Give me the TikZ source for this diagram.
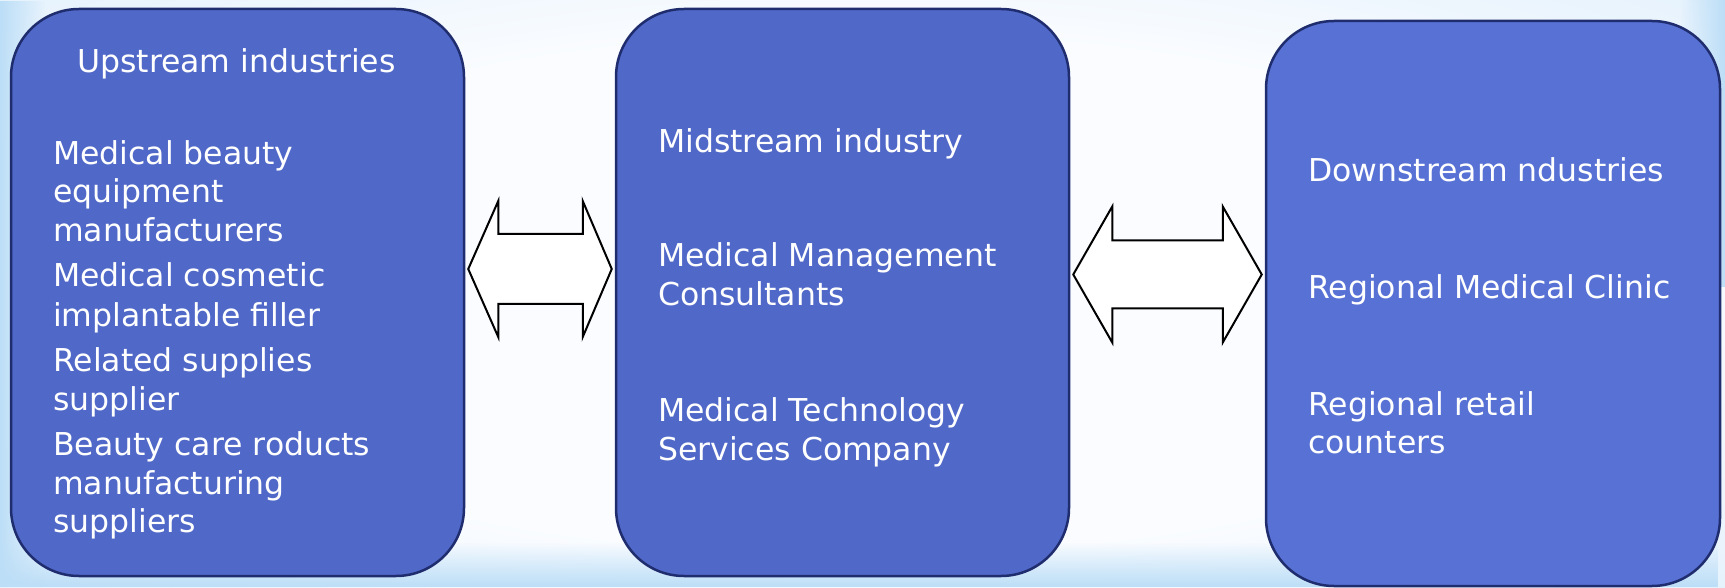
\documentclass[tikz,border=0pt]{standalone}
\usepackage{fontspec}
\setmainfont{DejaVu Sans}
\usetikzlibrary{calc,fadings}

\definecolor{bgblue}{RGB}{188,222,247}
\definecolor{bgwhite}{RGB}{250,252,255}
\definecolor{boxfill}{RGB}{80,104,200}
\definecolor{boxfillb}{RGB}{87,113,213}
\definecolor{boxline}{RGB}{31,45,110}

\pgfdeclareradialshading{skyglow}{\pgfpoint{0bp}{0bp}}{%
  color(0bp)=(bgwhite); color(22bp)=(bgwhite); color(38bp)=(bgwhite!60!bgblue); color(50bp)=(bgblue)}

\tikzset{
  stagebox/.style={draw=boxline, line width=2.5pt, fill=boxfill,
    rounded corners=68pt, inner sep=0pt},
  entry/.style={anchor=base west, inner sep=0pt, text=white,
    font=\fontsize{31.5}{38.7}\selectfont},
  dblarrow/.style={draw=black, line width=2pt, fill=white, line join=miter},
}

\begin{document}
\begin{tikzpicture}[x=1pt, y=1pt]
  % backdrop: pale sky with bluish edges
  \useasboundingbox (0,0) rectangle (1725,587);
  \shade[shading=skyglow] (0,0) rectangle (1725,587);
  \fill[bgblue, path fading=north] (0,0) rectangle (1725,45);
  \fill[bgblue, path fading=east] (0,0) rectangle (45,587);
  \fill[bgblue, path fading=west] (1680,300) rectangle (1725,587);

  % the three stages of the chain
  \node[stagebox, minimum width=453pt, minimum height=567pt] (b1) at (237.5,294.5) {};
  \node[stagebox, minimum width=453pt, minimum height=567pt] (b2) at (842.5,294.5) {};
  \node[stagebox, fill=boxfillb, minimum width=454pt, minimum height=565pt] (b3) at (1493,283.5) {};

  % upstream
  \node[entry] (u0) at (77,514.5) {Upstream industries};
  \node[entry] (u1) at (53,422.5) {Medical beauty};
  \node[entry] (u2) at (53,384.5) {equipment};
  \node[entry] (u3) at (53,345.5) {manufacturers};
  \node[entry] (u4) at (53,300.5) {Medical cosmetic};
  \node[entry] (u5) at (53,260.5) {implantable filler};
  \node[entry] (u6) at (53,215.5) {Related supplies};
  \node[entry] (u7) at (53,176.5) {supplier};
  \node[entry] (u8) at (53,131.5) {Beauty care roducts};
  \node[entry] (u9) at (53,92.5) {manufacturing};
  \node[entry] (u10) at (53,54.5) {suppliers};

  % midstream
  \node[entry] (m0) at (658,434.5) {Midstream industry};
  \node[entry] (m1) at (658,320.5) {Medical Management};
  \node[entry] (m2) at (658,281.5) {Consultants};
  \node[entry] (m3) at (658,165.5) {Medical Technology};
  \node[entry] (m4) at (658,126.5) {Services Company};

  % downstream
  \node[entry] (d0) at (1308,405) {Downstream ndustries};
  \node[entry] (d1) at (1308,288.5) {Regional Medical Clinic};
  \node[entry] (d2) at (1308,171.5) {Regional retail};
  \node[entry] (d3) at (1308,133.5) {counters};

  % double arrows between neighbouring stages
  \coordinate (aL) at ($(b1.east |- 0,318)+(3,0)$);
  \coordinate (aR) at ($(b2.west |- 0,318)+(-3,0)$);
  \draw[dblarrow] (aL) -- ($(aL)+(30,68)$) -- ($(aL)+(30,35)$) -- ($(aR)+(-29,35)$)
    -- ($(aR)+(-29,68)$) -- (aR) -- ($(aR)+(-29,-68)$) -- ($(aR)+(-29,-35)$)
    -- ($(aL)+(30,-35)$) -- ($(aL)+(30,-68)$) -- cycle;

  \coordinate (cL) at ($(b2.east |- 0,312.5)+(3,0)$);
  \coordinate (cR) at ($(b3.west |- 0,312.5)+(-3,0)$);
  \draw[dblarrow] (cL) -- ($(cL)+(39,68)$) -- ($(cL)+(39,34)$) -- ($(cR)+(-39,34)$)
    -- ($(cR)+(-39,68)$) -- (cR) -- ($(cR)+(-39,-68)$) -- ($(cR)+(-39,-34)$)
    -- ($(cL)+(39,-34)$) -- ($(cL)+(39,-68)$) -- cycle;
\end{tikzpicture}
\end{document}
